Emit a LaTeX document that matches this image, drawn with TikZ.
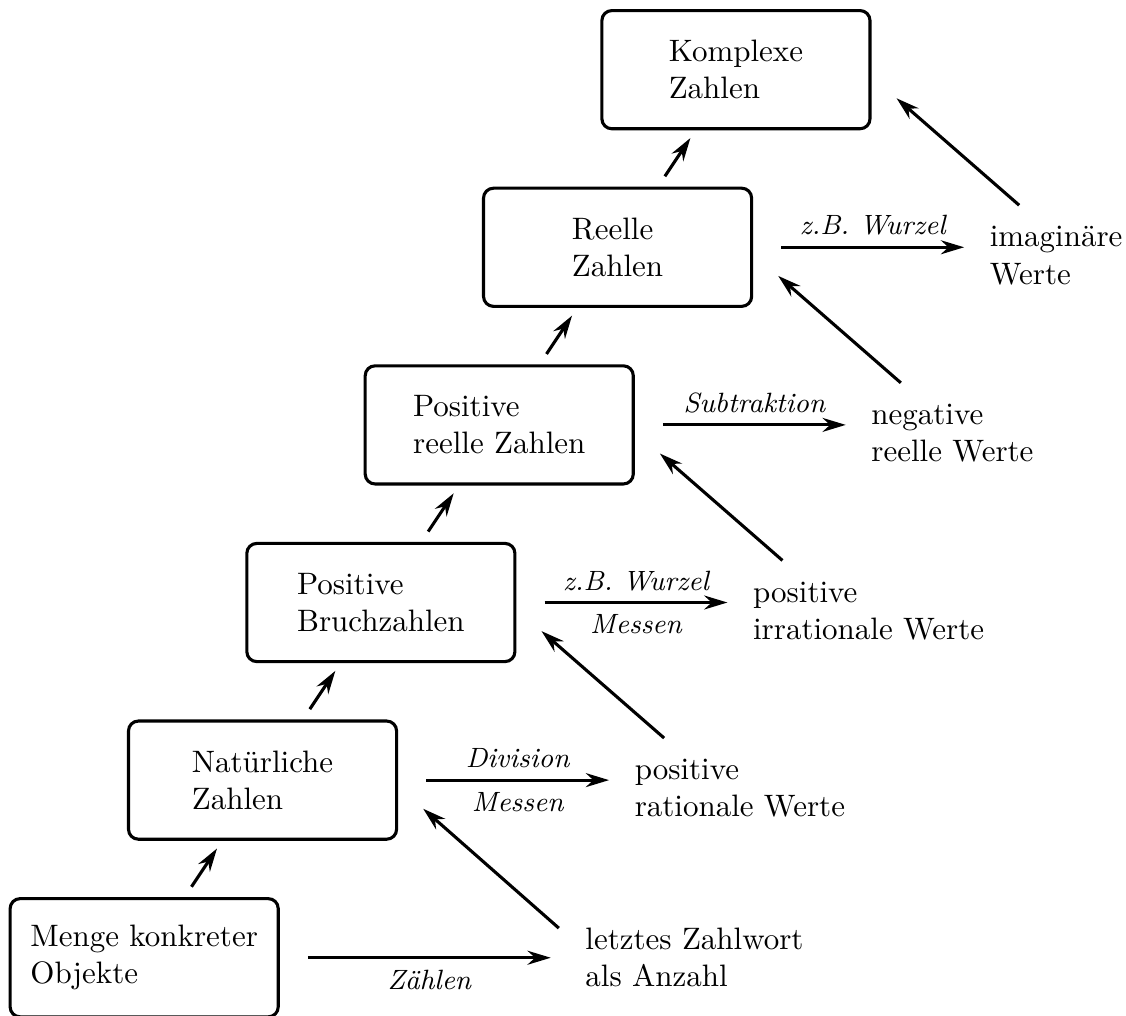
\documentclass[tikz,border=0pt]{standalone}
\usepackage{tikz}
\usetikzlibrary{arrows.meta, % for stealth tips
                calc,
                positioning}

\begin{document}
\begin{tikzpicture}[
                    numbox/.style={draw, line width=1pt, rounded corners=3.2pt, align=left,
                                   minimum width=3.04cm, minimum height=1.34cm},
                    newval/.style={align=left, inner sep=0pt},
                    extend/.style={-{Stealth[length=7.5pt, width=4.5pt]}, line width=1pt, shorten <=4pt, shorten >=3pt},
                    opline/.style={-{Stealth[length=7.5pt, width=4.5pt]}, line width=1pt},
                    backline/.style={-{Stealth[length=7.5pt, width=4.5pt]}, line width=1pt},
                    op_label/.style={midway, font=\small\itshape}
                    ]
    \newdimen \rangedx
    \newdimen \rangedy
    \rangedx = 1.342cm
    \rangedy = 2.014cm
    \useasboundingbox (-1.635,-0.651) rectangle (11.133,10.86);

    % number ranges
    \node[numbox] at (0,0)                       (menge) {Menge konkreter\\Objekte};
    \node[numbox] at (\rangedx,\rangedy)         (nat)   {Natürliche\\Zahlen};
    \node[numbox] at (2*\rangedx,2*\rangedy)     (bruch) {Positive\\Bruchzahlen};
    \node[numbox] at (3*\rangedx,3*\rangedy)     (posr)  {Positive\\reelle Zahlen};
    \node[numbox] at (4*\rangedx,4*\rangedy)     (reell) {Reelle\\Zahlen};
    \node[numbox] at (5*\rangedx,5*\rangedy)     (kompl) {Komplexe\\Zahlen};

    % new values
    \node[newval, right=3.459cm of menge]               (anz) {letztes Zahlwort\\als Anzahl};
    \node[newval, right=2.676cm of nat, yshift=-0.094cm]   (rat) {positive\\rationale Werte};
    \node[newval, right=2.676cm of bruch, yshift=-0.094cm] (irr) {positive\\irrationale Werte};
    \node[newval, right=2.676cm of posr, yshift=-0.094cm]  (neg) {negative\\reelle Werte};
    \node[newval, right=2.676cm of reell, yshift=-0.094cm] (ima) {imaginäre\\Werte};

    % extensions
    \draw[extend] (menge) -- (nat);
    \draw[extend] (nat)   -- (bruch);
    \draw[extend] (bruch) -- (posr);
    \draw[extend] (posr)  -- (reell);
    \draw[extend] (reell) -- (kompl);

    % operations
    \draw[opline] ([xshift=0.318cm]menge.east) -- ([xshift=-0.386cm]menge.east -| anz.west)
        node[op_label, below] {Zählen};
    \draw[opline] ([xshift=0.318cm]nat.east) -- ([xshift=-0.284cm]nat.east -| rat.west)
        node[op_label, above] {Division} node[op_label, below] {Messen};
    \draw[opline] ([xshift=0.318cm]bruch.east) -- ([xshift=-0.284cm]bruch.east -| irr.west)
        node[op_label, above] {z.B. Wurzel} node[op_label, below] {Messen};
    \draw[opline] ([xshift=0.318cm]posr.east) -- ([xshift=-0.284cm]posr.east -| neg.west)
        node[op_label, above] {Subtraktion};
    \draw[opline] ([xshift=0.318cm]reell.east) -- ([xshift=-0.284cm]reell.east -| ima.west)
        node[op_label, above] {z.B. Wurzel};

    % values back into the next range
    \draw[backline] ([shift={(-0.295,0.336)}]anz.west) -- ([shift={(0.284,0.363)}]nat.south east);
    \draw[backline] ([shift={(0.340,0.571)}]rat.west)  -- ([shift={(0.284,0.363)}]bruch.south east);
    \draw[backline] ([shift={(0.340,0.571)}]irr.west)  -- ([shift={(0.284,0.363)}]posr.south east);
    \draw[backline] ([shift={(0.340,0.571)}]neg.west)  -- ([shift={(0.284,0.363)}]reell.south east);
    \draw[backline] ([shift={(0.340,0.571)}]ima.west)  -- ([shift={(0.284,0.363)}]kompl.south east);
\end{tikzpicture}
\end{document}
